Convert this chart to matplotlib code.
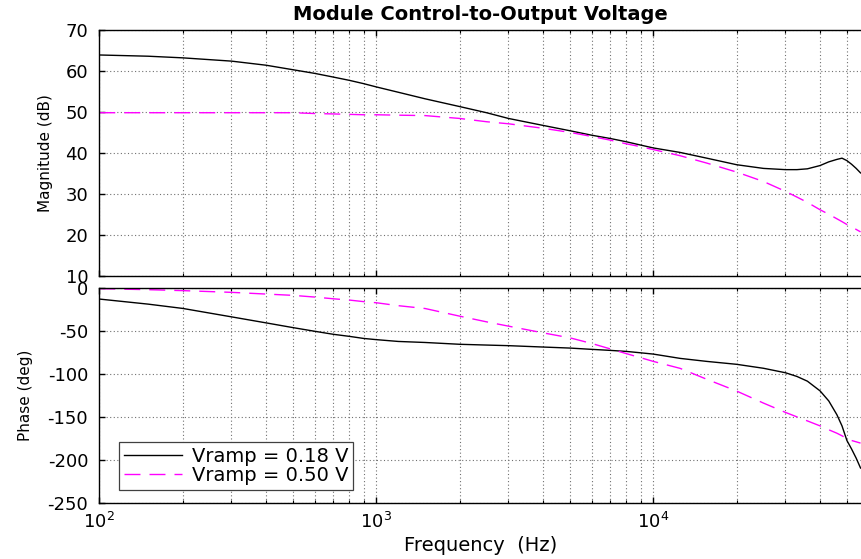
import numpy as np
import matplotlib
matplotlib.use('Agg')
from matplotlib import pyplot as plt
from matplotlib.ticker import LogLocator, NullFormatter

# frequency points (Hz) and the two Bode responses
freq = [100, 150, 200, 300, 400, 500, 600, 700, 800, 900, 1000, 1200, 1500,
        2000, 2500, 3000, 4000, 5000, 6000, 7000, 8000, 9000, 10000, 12500,
        15600, 20000, 25000, 30000, 33000, 36000, 40000, 43000, 46000, 48000,
        50000, 52000, 54000, 56000]

# Vramp = 0.18 V
mag_018 = [63.9, 63.6, 63.2, 62.4, 61.4, 60.3, 59.4, 58.5, 57.7, 56.9, 56.1,
           54.8, 53.2, 51.3, 49.8, 48.4, 46.7, 45.4, 44.3, 43.5, 42.7, 41.9,
           41.2, 40.1, 38.7, 37.1, 36.2, 35.9, 35.9, 36.1, 36.9, 37.8, 38.4,
           38.7, 38.1, 37.2, 36.2, 35.1]
phase_018 = [-12.5, -18.4, -23.4, -33.2, -40.2, -45.7, -50.0, -53.5, -55.9,
             -58.3, -59.7, -61.8, -63.0, -65.1, -66.0, -66.7, -68.3, -69.5,
             -71.0, -72.2, -73.4, -75.0, -76.5, -81.5, -85.0, -88.4, -93.0,
             -98.2, -102.5, -108.0, -119.3, -131.0, -147.0, -160.0, -177.0,
             -187.0, -197.5, -209.0]

# Vramp = 0.50 V
mag_050 = [49.8, 49.8, 49.8, 49.8, 49.8, 49.8, 49.6, 49.5, 49.4, 49.3, 49.3,
           49.2, 49.1, 48.4, 47.6, 47.1, 46.0, 45.0, 44.0, 43.1, 42.2, 41.5,
           40.8, 39.3, 37.5, 35.3, 33.0, 30.6, 29.2, 27.9, 26.1, 25.0, 23.9,
           23.2, 22.5, 21.9, 21.3, 20.7]
phase_050 = [-0.4, -1.6, -2.7, -4.7, -6.7, -8.2, -10.2, -12.2, -13.7, -15.5,
             -16.8, -20.2, -23.5, -32.4, -39.0, -44.0, -51.8, -57.6, -64.2,
             -70.5, -76.0, -80.7, -85.0, -93.1, -105.8, -119.5, -133.5,
             -144.3, -149.5, -154.2, -160.0, -164.5, -168.5, -171.5, -175.0,
             -177.0, -178.5, -180.0]

labels = ['Vramp = 0.18 V', 'Vramp = 0.50 V']

plt.rcParams['axes.unicode_minus'] = False

W, H = 861, 559
fig = plt.figure(figsize=(W / 100, H / 100), dpi=100)

left = 99.3
ax1 = fig.add_axes([left / W, 1 - 275.7 / H, (W - left) / W, (275.7 - 30) / H])
ax2 = fig.add_axes([left / W, 1 - 503.3 / H, (W - left) / W, (503.3 - 288.3) / H])

dash = (0, (11.5, 6.5))
ax1.semilogx(freq, mag_018, color='black', lw=1.0, label=labels[0])
ax1.semilogx(freq, mag_050, color='#ff00ff', lw=1.0, linestyle=dash, label=labels[1])
ax2.semilogx(freq, phase_018, color='black', lw=1.0, label=labels[0])
ax2.semilogx(freq, phase_050, color='#ff00ff', lw=1.0, linestyle=dash, label=labels[1])

xmax = 10 ** (2 + (W - left) / 277.0)
for ax in (ax1, ax2):
    ax.set_xlim(100, xmax)
    ax.xaxis.set_major_locator(LogLocator(base=10))
    ax.xaxis.set_minor_locator(LogLocator(base=10, subs=np.arange(2, 10)))
    ax.xaxis.set_minor_formatter(NullFormatter())
    ax.grid(True, which='major', axis='both', color='#707070',
            linestyle=(0, (1, 2.2)), lw=0.8)
    ax.grid(True, which='minor', axis='x', color='#707070',
            linestyle=(0, (1, 2.2)), lw=0.8)
    ax.tick_params(which='both', direction='in', top=True, right=False,
                   labelsize=13, pad=8)
    ax.tick_params(which='major', length=4, width=1)
    ax.tick_params(which='minor', length=2, width=0.8)
    ax.spines['right'].set_visible(False)
    for s in ('left', 'top', 'bottom'):
        ax.spines[s].set_linewidth(1.0)

ax1.set_ylim(10, 70)
ax1.set_yticks(np.arange(10, 71, 10))
ax1.tick_params(labelbottom=False)
ax1.set_ylabel('Magnitude (dB)', fontsize=11)
ax1.yaxis.set_label_coords((53 - left) / (W - left), 0.5)
ax1.set_title('Module Control-to-Output Voltage', fontsize=14,
              fontweight='bold', pad=7)

ax2.set_ylim(-250, 0)
ax2.set_yticks(np.arange(-250, 1, 50))
ax2.tick_params(axis='x', pad=6)
ax2.set_ylabel('Phase (deg)', fontsize=11)
ax2.yaxis.set_label_coords((33 - left) / (W - left), 0.5)
ax2.set_xlabel('Frequency  (Hz)', fontsize=14, labelpad=3)

leg = ax2.legend(loc='lower left', bbox_to_anchor=(0.026, 0.062),
                 borderaxespad=0, fontsize=14, fancybox=False, framealpha=1,
                 edgecolor='#404040', handlelength=3.0, handletextpad=0.5,
                 labelspacing=0.0, borderpad=0.25)
leg.get_frame().set_linewidth(0.9)

fig.savefig('out.png', dpi=100)
